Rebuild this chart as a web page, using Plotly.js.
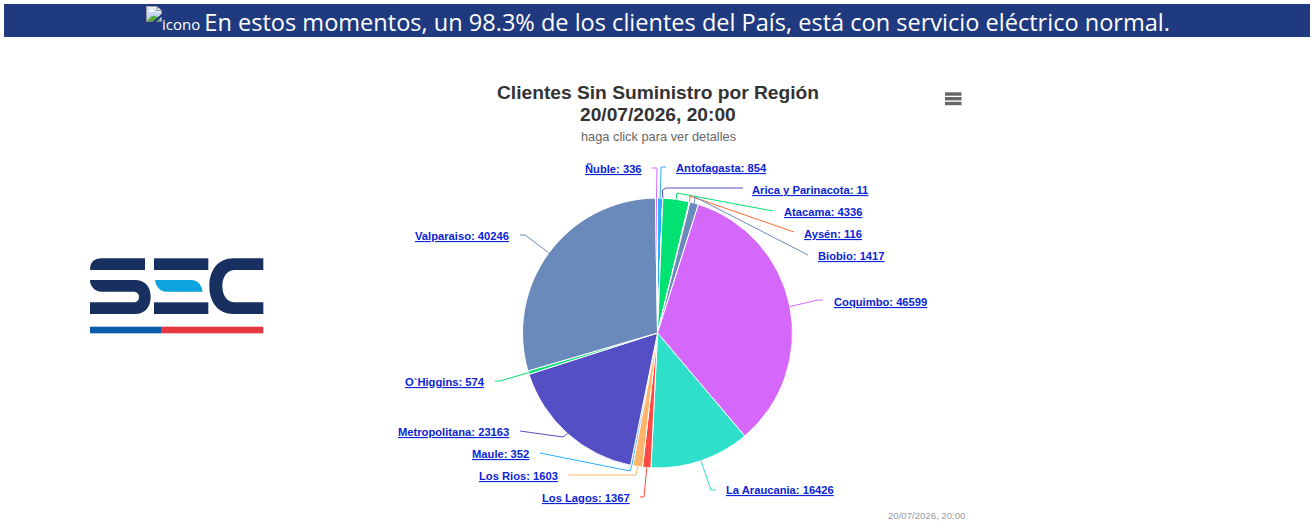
<!DOCTYPE html>
<html><head><meta charset="utf-8">
<script src="https://cdn.plot.ly/plotly-3.0.1.min.js"></script>
<style>
html,body{margin:0;padding:0;background:#fff;overflow:hidden}
#chart{position:absolute;left:0;top:0;width:1314px;height:529px}
#banner{position:absolute;left:4px;top:4px;width:1306px;height:33px;background:#1f3a7e;color:#fff;text-align:center;
font-family:"Open Sans","Noto Sans",sans-serif;font-size:23.55px;line-height:36px;white-space:nowrap}
#banner img{font-size:15px;vertical-align:baseline;position:relative;top:-1px;left:2px}
#logo{position:absolute;left:60px;top:240px;width:230px;height:110px}
</style></head><body>
<div id="chart"></div>
<div id="banner"><img src="icono.png" alt="icono"> En estos momentos, un 98.3% de los clientes del País, está con servicio eléctrico normal.</div>
<svg id="logo" viewBox="0 0 690 330">
<g fill="#17305f">
<path d="M255,55H125Q90,55 90,90H255Z"/>
<path d="M90,120H225C255,120 272,140 272,170C272,200 255,222 225,222H90V187H220C232,187 237,180 237,171C237,162 232,155 220,155H125C105,155 90,140 90,120Z"/>
<rect x="282" y="55" width="163" height="35"/>
<rect x="282" y="187" width="163" height="35"/>
<path d="M610,55H520C475,55 448,90 448,138C448,187 475,222 520,222H610V187H525C500,187 487,165 487,138C487,112 500,90 525,90H610Z"/>
</g>
<path d="M285,120H395C412,120 425,135 428,155H318C300,155 288,140 285,120Z" fill="#0da2e0"/>
<rect x="90" y="260" width="213" height="20" fill="#0a5bab"/>
<rect x="303" y="260" width="307" height="20" fill="#e6383f"/>
</svg>
<script>
// Data
const regions = ["Antofagasta","Arica y Parinacota","Atacama","Aysén","Biobio","Coquimbo","La Araucania","Los Lagos","Los Rios","Maule","Metropolitana","O`Higgins","Valparaiso","Ñuble"];
const clients = [854,11,4336,116,1417,46599,16426,1367,1603,352,23163,574,40246,336];
const colors = ["#2caffe","#544fc5","#00e272","#fe6a35","#6b8abc","#d568fb","#2ee0ca","#fa4b42","#feb56a","#2caffe","#544fc5","#00e272","#6b8abc","#d568fb"];

// Page layout (pixels), not data
const W = 1314, H = 529;
const pie = {cx:657.5, cy:333, r:135};
const labelLeft = [674.5,751.5,783,803,816.5,832.5,724.5,540.5,477.5,470.5,396.5,403.5,413.5,583.5];
const labelMid  = [168,190,212,234,256,302,490,498,476,454,432,382,236,169];
const connectors = [
 [[666,167],[661,167],[660.5,185]],
 [[743,188],[666,188],[662.5,190]],
 [[773,211],[677,193]],
 [[794,232],[690,196]],
 [[808,255],[695,197]],
 [[823,300],[818,300]],
 [[716,490],[711,490]],
 [[640,497],[644,497]],
 [[568,475],[636,475]],
 [[540,453],[630,471]],
 [[520,431],[563,437]],
 [[495,381],[500,381]],
 [[520,235],[525,235]],
 [[652,168],[657,168]]
];
const px = x => x/W, py = y => 1-y/H;
const total = clients.reduce((a,b)=>a+b,0);
let run = 0;
const shapes = [], annotations = [];
clients.forEach((v,i)=>{
  const ang = (run + v/2)/total*2*Math.PI; run += v;
  const edge = [pie.cx+pie.r*Math.sin(ang), pie.cy-pie.r*Math.cos(ang)];
  const pts = connectors[i].concat([edge]);
  shapes.push({type:'path',xref:'paper',yref:'paper',
    path:pts.map((p,k)=>(k?'L':'M')+px(p[0])+','+py(p[1])).join(' '),
    line:{color:colors[i],width:1}});
  annotations.push({xref:'paper',yref:'paper',x:px(labelLeft[i]),y:py(labelMid[i]),xanchor:'left',yanchor:'middle',
    showarrow:false,align:'left',text:'<u><b>'+regions[i]+': '+v+'</b></u>',
    font:{family:'"Liberation Sans",Arial,sans-serif',size:11.2,color:'#0b24d6'},borderpad:0});
});
// hamburger menu
[94,98.7,103.5].forEach(y=>shapes.push({type:'line',xref:'paper',yref:'paper',x0:px(945),x1:px(961.5),y0:py(y),y1:py(y),line:{color:'#666666',width:3.4}}));

annotations.push(
 {xref:'paper',yref:'paper',x:px(658),y:py(92.5),xanchor:'center',yanchor:'middle',showarrow:false,text:'<b>Clientes Sin Suministro por Región</b>',font:{family:'"Liberation Sans",Arial,sans-serif',size:19.2,color:'#333333'}},
 {xref:'paper',yref:'paper',x:px(658),y:py(114.5),xanchor:'center',yanchor:'middle',showarrow:false,text:'<b>20/07/2026, 20:00</b>',font:{family:'"Liberation Sans",Arial,sans-serif',size:19.2,color:'#333333'}},
 {xref:'paper',yref:'paper',x:px(658),y:py(136.5),xanchor:'center',yanchor:'middle',showarrow:false,text:'haga click para ver detalles',font:{family:'"Liberation Sans",Arial,sans-serif',size:12.8,color:'#666666'}},
 {xref:'paper',yref:'paper',x:px(967),y:py(515),xanchor:'right',yanchor:'middle',showarrow:false,text:'20/07/2026, 20:00',font:{family:'"Liberation Sans",Arial,sans-serif',size:9.6,color:'#999999'}}
);

Plotly.newPlot('chart',[{
  type:'pie',labels:regions,values:clients,sort:false,direction:'clockwise',rotation:0,
  marker:{colors:colors,line:{color:'#ffffff',width:1}},
  textinfo:'none',hoverinfo:'label+value',
  domain:{x:[px(pie.cx-pie.r),px(pie.cx+pie.r)],y:[py(pie.cy+pie.r),py(pie.cy-pie.r)]}
}],{
  width:W,height:H,margin:{l:0,r:0,t:0,b:0},showlegend:false,paper_bgcolor:'#fff',
  shapes:shapes,annotations:annotations
},{displayModeBar:false});
</script>
</body></html>
